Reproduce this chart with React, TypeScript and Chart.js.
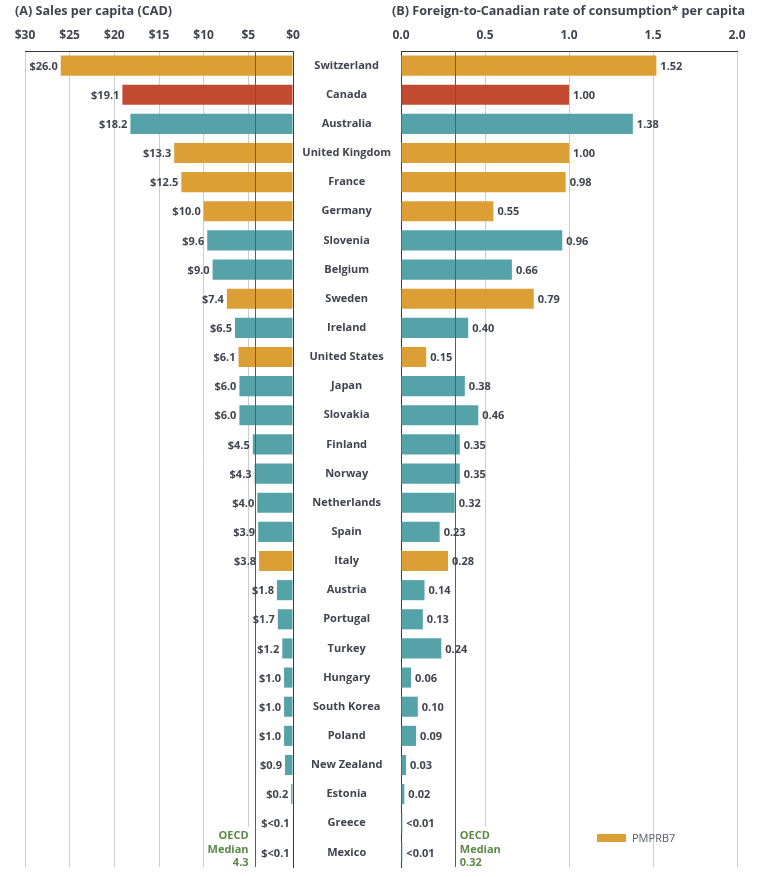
import React, { useEffect, useRef } from "react";
import { Chart, registerables } from "chart.js";

Chart.register(...registerables);

const countries = [
  "Switzerland", "Canada", "Australia", "United Kingdom", "France", "Germany",
  "Slovenia", "Belgium", "Sweden", "Ireland", "United States", "Japan",
  "Slovakia", "Finland", "Norway", "Netherlands", "Spain", "Italy", "Austria",
  "Portugal", "Turkey", "Hungary", "South Korea", "Poland", "New Zealand",
  "Estonia", "Greece", "Mexico",
];

const groups = [
  "PMPRB7", "Canada", "OECD", "PMPRB7", "PMPRB7", "PMPRB7",
  "OECD", "OECD", "PMPRB7", "OECD", "PMPRB7", "OECD",
  "OECD", "OECD", "OECD", "OECD", "OECD", "PMPRB7", "OECD",
  "OECD", "OECD", "OECD", "OECD", "OECD", "OECD",
  "OECD", "OECD", "OECD",
];

const salesPerCapita = [
  26.0, 19.1, 18.2, 13.3, 12.5, 10.0, 9.6, 9.0, 7.4, 6.5, 6.1, 6.0, 6.0, 4.5,
  4.3, 4.0, 3.9, 3.8, 1.8, 1.7, 1.2, 1.0, 1.0, 1.0, 0.9, 0.2, 0.05, 0.05,
];
const salesLabels = [
  "$26.0", "$19.1", "$18.2", "$13.3", "$12.5", "$10.0", "$9.6", "$9.0", "$7.4",
  "$6.5", "$6.1", "$6.0", "$6.0", "$4.5", "$4.3", "$4.0", "$3.9", "$3.8",
  "$1.8", "$1.7", "$1.2", "$1.0", "$1.0", "$1.0", "$0.9", "$0.2", "$<0.1", "$<0.1",
];

const consumptionRate = [
  1.52, 1.0, 1.38, 1.0, 0.98, 0.55, 0.96, 0.66, 0.79, 0.4, 0.15, 0.38, 0.46,
  0.35, 0.35, 0.32, 0.23, 0.28, 0.14, 0.13, 0.24, 0.06, 0.1, 0.09, 0.03, 0.02,
  0.008, 0.008,
];
const consumptionLabels = [
  "1.52", "1.00", "1.38", "1.00", "0.98", "0.55", "0.96", "0.66", "0.79", "0.40",
  "0.15", "0.38", "0.46", "0.35", "0.35", "0.32", "0.23", "0.28", "0.14", "0.13",
  "0.24", "0.06", "0.10", "0.09", "0.03", "0.02", "<0.01", "<0.01",
];

const salesMedian = 4.3;
const consumptionMedian = 0.32;
const salesMedianLabel = ["OECD", "Median", "4.3"];
const consumptionMedianLabel = ["OECD", "Median", "0.32"];
const legendLabel = "PMPRB7";

const titleA = "(A) Sales per capita (CAD)";
const titleB = "(B) Foreign-to-Canadian rate of consumption* per capita";

const COLORS: Record<string, string> = {
  PMPRB7: "#DC9F36",
  Canada: "#C14A30",
  OECD: "#55A3A8",
};
const TEXT = "#41434f";
const GRID = "#cccccc";
const BORDER = "#3a3a3a";
const MEDIAN_LINE = "#3f6e4a";
const MEDIAN_TEXT = "#5b8a45";
const FONT = "'Open Sans', Lato, sans-serif";

const barColors = groups.map((g) => COLORS[g]);

const medianPlugin = {
  id: "medianLine",
  afterDatasetsDraw(chart: any, _args: any, opts: any) {
    const { ctx, chartArea, scales } = chart;
    const x = scales.x.getPixelForValue(opts.value);
    ctx.save();
    ctx.strokeStyle = MEDIAN_LINE;
    ctx.lineWidth = 1;
    ctx.beginPath();
    ctx.moveTo(Math.round(x) + 0.5, chartArea.top);
    ctx.lineTo(Math.round(x) + 0.5, chartArea.bottom);
    ctx.stroke();
    ctx.font = `bold 11px ${FONT}`;
    const lines: string[] = opts.lines;
    const widest = Math.max(...lines.map((l) => ctx.measureText(l).width));
    const ys = [chartArea.bottom - 31, chartArea.bottom - 17, chartArea.bottom - 4];
    ctx.fillStyle = "#ffffff";
    if (opts.side === "left") {
      ctx.fillRect(x - 6 - widest - 2, ys[0] - 9, widest + 4, ys[2] - ys[0] + 18);
    } else {
      ctx.fillRect(x + 3, ys[0] - 9, widest + 4, ys[2] - ys[0] + 18);
    }
    ctx.fillStyle = MEDIAN_TEXT;
    ctx.textBaseline = "middle";
    ctx.textAlign = opts.side === "left" ? "right" : "left";
    lines.forEach((l, i) => {
      ctx.fillText(l, opts.side === "left" ? x - 6 : x + 5, ys[i]);
    });
    ctx.restore();
  },
};

const valueLabelPlugin = {
  id: "valueLabels",
  afterDatasetsDraw(chart: any, _args: any, opts: any) {
    const { ctx } = chart;
    const meta = chart.getDatasetMeta(0);
    ctx.save();
    ctx.font = `bold 11px ${FONT}`;
    ctx.fillStyle = TEXT;
    ctx.textBaseline = "middle";
    ctx.textAlign = opts.side === "left" ? "right" : "left";
    meta.data.forEach((el: any, i: number) => {
      const x = opts.side === "left" ? el.x - 3 : el.x + 4;
      ctx.fillText(opts.labels[i], x, el.y + 1);
    });
    ctx.restore();
  },
};

const legendPlugin = {
  id: "customLegend",
  afterDraw(chart: any, _args: any, opts: any) {
    if (!opts || !opts.text) return;
    const { ctx, chartArea } = chart;
    const x = chartArea.right - 140;
    const y = chartArea.bottom - 29;
    ctx.save();
    ctx.fillStyle = opts.color;
    ctx.fillRect(x, y - 4, 29, 8);
    ctx.fillStyle = "#565a6c";
    ctx.font = `11px ${FONT}`;
    ctx.textBaseline = "middle";
    ctx.textAlign = "left";
    ctx.fillText(opts.text, x + 35, y + 1);
    ctx.restore();
  },
};

function LeftChart() {
  const ref = useRef<HTMLCanvasElement>(null);
  useEffect(() => {
    const chart = new Chart(ref.current!, {
      type: "bar",
      data: {
        labels: countries,
        datasets: [
          {
            data: salesPerCapita,
            backgroundColor: barColors,
            borderWidth: 0,
            categoryPercentage: 1,
            barPercentage: 0.69,
          },
        ],
      },
      options: {
        indexAxis: "y",
        responsive: false,
        animation: false,
        layout: { padding: { left: 25, right: 17, top: 21, bottom: 10 } },
        plugins: {
          legend: { display: false },
          tooltip: { enabled: false },
          medianLine: { value: salesMedian, lines: salesMedianLabel, side: "left" },
          valueLabels: { labels: salesLabels, side: "left" },
        } as any,
        scales: {
          x: {
            type: "linear",
            position: "top",
            reverse: true,
            min: 0,
            max: 30,
            afterFit: (s: any) => {
              s.height = 30;
              s.paddingLeft = 0;
              s.paddingRight = 0;
            },
            ticks: {
              stepSize: 5,
              padding: 8,
              color: TEXT,
              font: { family: FONT, size: 12, weight: "bold" },
              callback: (v: any) => "$" + v,
            },
            grid: { color: GRID, drawTicks: false, lineWidth: 1 },
            border: { display: true, color: BORDER, width: 1 },
          },
          y: {
            position: "right",
            afterFit: (s: any) => {
              s.width = 0;
              s.paddingTop = 0;
              s.paddingBottom = 0;
            },
            ticks: { display: false },
            grid: { display: false, drawTicks: false },
            border: { display: true, color: BORDER, width: 1 },
          },
        },
      } as any,
      plugins: [medianPlugin, valueLabelPlugin],
    });
    return () => chart.destroy();
  }, []);
  return (
    <canvas
      ref={ref}
      width={310}
      height={877}
      style={{ position: "absolute", left: 0, top: 0, display: "block" }}
    />
  );
}

function RightChart() {
  const ref = useRef<HTMLCanvasElement>(null);
  useEffect(() => {
    const chart = new Chart(ref.current!, {
      type: "bar",
      data: {
        labels: countries,
        datasets: [
          {
            data: consumptionRate,
            backgroundColor: barColors,
            borderWidth: 0,
            categoryPercentage: 1,
            barPercentage: 0.69,
          },
        ],
      },
      options: {
        indexAxis: "y",
        responsive: false,
        animation: false,
        layout: { padding: { left: 0, right: 22, top: 21, bottom: 10 } },
        plugins: {
          legend: { display: false },
          tooltip: { enabled: false },
          medianLine: { value: consumptionMedian, lines: consumptionMedianLabel, side: "right" },
          valueLabels: { labels: consumptionLabels, side: "right" },
          customLegend: { text: legendLabel, color: COLORS.PMPRB7 },
        } as any,
        scales: {
          x: {
            type: "linear",
            position: "top",
            min: 0,
            max: 2,
            afterFit: (s: any) => {
              s.height = 30;
              s.paddingLeft = 0;
              s.paddingRight = 0;
            },
            ticks: {
              stepSize: 0.5,
              padding: 8,
              color: TEXT,
              font: { family: FONT, size: 12, weight: "bold" },
              callback: (v: any) => Number(v).toFixed(1),
            },
            grid: { color: GRID, drawTicks: false, lineWidth: 1 },
            border: { display: true, color: BORDER, width: 1 },
          },
          y: {
            position: "left",
            afterFit: (s: any) => {
              s.width = 108;
              s.paddingTop = 0;
              s.paddingBottom = 0;
            },
            ticks: {
              crossAlign: "center",
              padding: 10,
              color: TEXT,
              font: { family: FONT, size: 11, weight: "bold" },
            },
            grid: { display: false, drawTicks: false },
            border: { display: true, color: BORDER, width: 1 },
          },
        },
      } as any,
      plugins: [medianPlugin, valueLabelPlugin, legendPlugin],
    });
    return () => chart.destroy();
  }, []);
  return (
    <canvas
      ref={ref}
      width={466}
      height={877}
      style={{ position: "absolute", left: 293, top: 0, display: "block" }}
    />
  );
}

const titleStyle: React.CSSProperties = {
  position: "absolute",
  top: 3,
  font: `bold 12.6px ${FONT}`,
  lineHeight: "16px",
  color: TEXT,
  whiteSpace: "nowrap",
};

export default function App() {
  return (
    <div
      style={{
        position: "absolute",
        left: 0,
        top: 0,
        width: 759,
        height: 877,
        background: "#ffffff",
        overflow: "hidden",
      }}
    >
      <LeftChart />
      <RightChart />
      <div style={{ ...titleStyle, left: 15 }}>{titleA}</div>
      <div style={{ ...titleStyle, left: 392 }}>{titleB}</div>
    </div>
  );
}
